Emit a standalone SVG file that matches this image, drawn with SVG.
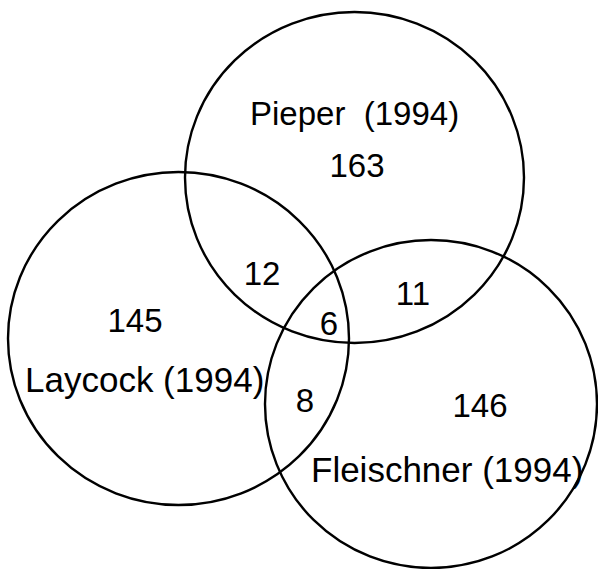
<svg xmlns="http://www.w3.org/2000/svg" width="598" height="569" viewBox="0 0 598 569">
  <style>
    .set { fill: none; stroke: #000; stroke-width: 2.4; }
    .lbl { font-family: "Liberation Sans", Arial, sans-serif; fill: #000; white-space: pre; }
    .num { font-family: "Liberation Sans", Arial, sans-serif; fill: #000; font-size: 33px; text-anchor: middle; }
  </style>
  <rect width="598" height="569" fill="#fff"/>

  <!-- Pieper set -->
  <g id="pieper">
    <ellipse class="set" cx="354.5" cy="177.5" rx="169.5" ry="165.5"/>
    <text class="lbl" x="250" y="125" font-size="33" xml:space="preserve">Pieper  (1994)</text>
    <text class="num" x="357" y="177">163</text>
  </g>

  <!-- Laycock set -->
  <g id="laycock">
    <ellipse class="set" cx="178.5" cy="338.5" rx="170.5" ry="166.5"/>
    <text class="lbl" x="25" y="392" font-size="35">Laycock (1994)</text>
    <text class="num" x="135" y="332">145</text>
  </g>

  <!-- Fleischner set -->
  <g id="fleischner">
    <ellipse class="set" cx="431" cy="404" rx="166" ry="164"/>
    <text class="lbl" x="311" y="482" font-size="35">Fleischner (1994)</text>
    <text class="num" x="480" y="417">146</text>
  </g>

  <!-- overlap counts -->
  <g id="overlaps">
    <text class="num" x="262" y="285">12</text>
    <text class="num" x="413" y="305">11</text>
    <text class="num" x="329" y="335">6</text>
    <text class="num" x="305" y="412">8</text>
  </g>
</svg>
